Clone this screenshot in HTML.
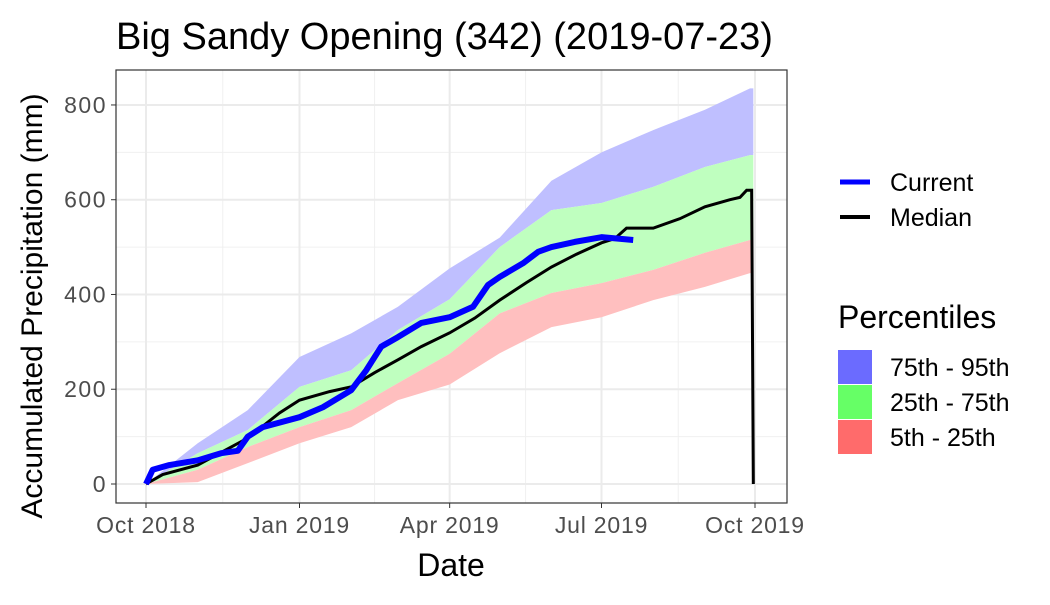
<!DOCTYPE html>
<html><head><meta charset="utf-8"><style>
body{margin:0;background:#fff;font-family:"Liberation Sans",sans-serif}
</style></head><body>
<svg id="c" width="1050" height="600" xmlns="http://www.w3.org/2000/svg" font-family="Liberation Sans, sans-serif">
<rect width="1050" height="600" fill="#fff"/>
<text x="116" y="49" font-size="38">Big Sandy Opening (342) (2019-07-23)</text>
<g id="grid"></g><g id="bands"></g><g id="lines"></g>
<rect x="116" y="70" width="671" height="433" fill="none" stroke="#333" stroke-width="1.2"/>
<g id="axes"></g>
<text x="451" y="576" font-size="32" text-anchor="middle">Date</text>
<text transform="translate(42,306) rotate(-90)" font-size="30" text-anchor="middle">Accumulated Precipitation (mm)</text>
<g><line x1="840" y1="182" x2="870" y2="182" stroke="#0000ff" stroke-width="5"/><text x="890" y="191" font-size="25">Current</text></g>
<g><line x1="840" y1="217" x2="870" y2="217" stroke="#000" stroke-width="4"/><text x="890" y="226" font-size="25">Median</text></g>
<text x="838" y="328" font-size="32">Percentiles</text>
<g><rect x="838" y="350" width="34" height="34" fill="#6b6bff"/><text x="890" y="376" font-size="25">75th - 95th</text></g>
<g><rect x="838" y="385" width="34" height="34" fill="#66ff66"/><text x="890" y="411" font-size="25">25th - 75th</text></g>
<g><rect x="838" y="420" width="34" height="34" fill="#ff6b6b"/><text x="890" y="446" font-size="25">5th - 25th</text></g>
</svg>
<script>
const bandDays=[0,31,61,92,123,151,182,212,243,273,304,335,362,364];
const p95=[0,86,156,268,318,374,455,520,640,700,747,790,835,835];
const p75=[0,65,114,205,240,325,390,500,578,593,627,669,694,694];
const p25=[0,30,78,120,156,213,275,360,403,424,452,488,515,515];
const p5=[0,4,44,86,120,177,210,276,331,352,388,416,445,445];
const medDays=[0,10,31,61,80,92,110,123,137,151,165,182,197,212,228,243,258,273,281,288,304,320,335,350,356,360,363,364];
const median=[0,20,40,97,150,177,195,205,235,262,290,319,350,388,425,458,485,509,518,540,540,560,585,600,605,620,620,0];
const curDays=[0,4,14,31,45,55,61,70,92,106,123,132,141,151,165,182,196,205,212,226,235,243,257,273,292];
const current=[0,30,40,50,65,70,100,120,141,162,198,240,290,310,340,352,374,420,437,466,490,500,511,521,515];
const xTicks=[0,92,182,273,365];
const xLabels=["Oct 2018","Jan 2019","Apr 2019","Jul 2019","Oct 2019"];
const yTicks=[0,200,400,600,800];
const NS="http://www.w3.org/2000/svg";
const X=d=>146+d*(609/365), Y=v=>484-v*0.4738;
function mk(t,a,p){const e=document.createElementNS(NS,t);for(const k in a)e.setAttribute(k,a[k]);p.appendChild(e);return e;}
function stepPts(ds,vs){const o=[];for(let i=0;i<ds.length;i++){if(i>0)o.push(X(ds[i])+','+Y(vs[i-1]));o.push(X(ds[i])+','+Y(vs[i]));}return o.join(' ');}
const grid=document.getElementById('grid'),bands=document.getElementById('bands'),lines=document.getElementById('lines'),axes=document.getElementById('axes');
mk('rect',{x:116,y:70,width:671,height:433,fill:'#fff'},grid);
for(let i=0;i<yTicks.length-1;i++){const v=(yTicks[i]+yTicks[i+1])/2;const l=mk('line',{x1:116,x2:787,y1:Y(v),y2:Y(v),stroke:'#f0f0f0','stroke-width':1},grid);

}
for(let i=0;i<xTicks.length-1;i++){const d=(xTicks[i]+xTicks[i+1])/2;mk('line',{x1:X(d),x2:X(d),y1:70,y2:503,stroke:'#f0f0f0','stroke-width':1},grid);}
yTicks.forEach(v=>{const l=mk('line',{x1:116,x2:787,y1:Y(v),y2:Y(v),stroke:'#ebebeb','stroke-width':2},grid);


mk('line',{x1:111,x2:116,y1:Y(v),y2:Y(v),stroke:'#333'},axes);
const t=mk('text',{x:107,y:Y(v)+8,'font-size':23,'letter-spacing':1.5,'text-anchor':'end',fill:'#4d4d4d'},axes);t.textContent=v;

});
xTicks.forEach((d,i)=>{const l=mk('line',{x1:X(d),x2:X(d),y1:70,y2:503,stroke:'#ebebeb','stroke-width':2},grid);


mk('line',{x1:X(d),x2:X(d),y1:503,y2:508,stroke:'#333'},axes);
const t=mk('text',{x:X(d),y:533,'font-size':23,'letter-spacing':0.8,'text-anchor':'middle',fill:'#4d4d4d'},axes);t.textContent=xLabels[i];

});
function band(lo,hi,fill,name){let p=bandDays.map((d,i)=>X(d)+','+Y(hi[i]));p=p.concat(bandDays.slice().reverse().map((d,j)=>{const i=bandDays.length-1-j;return X(d)+','+Y(lo[i]);}));
const e=mk('polygon',{points:p.join(' '),fill:fill},bands);

}
band(p75,p95,'#bfbfff','band-75-95');
band(p25,p75,'#bfffbf','band-25-75');
band(p5,p25,'#ffbfbf','band-5-25');
const m=mk('polyline',{points:medDays.map((d,i)=>X(d)+','+Y(median[i])).join(' '),fill:'none',stroke:'#000','stroke-width':3},lines);


const c=mk('polyline',{points:curDays.map((d,i)=>X(d)+','+Y(current[i])).join(' '),fill:'none',stroke:'#0000ff','stroke-width':6,'stroke-linejoin':'round'},lines);


</script>
</body></html>
